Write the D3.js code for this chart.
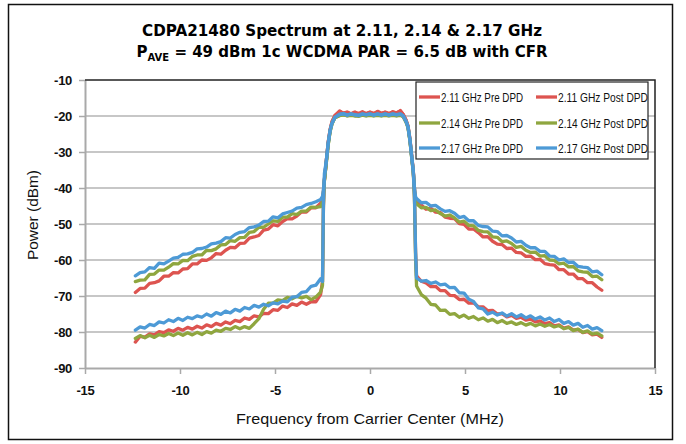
<!DOCTYPE html>
<html><head><meta charset="utf-8">
<script src="https://cdn.jsdelivr.net/npm/d3@7/dist/d3.min.js"></script>
<style>body{margin:0;background:#fff}</style>
</head><body><svg id="c" width="686" height="444"></svg>
<script>
// ---- DATA ----
const freq = [
 -12.35,-12.1,-11.85,-11.6,-11.35,-11.1,-10.85,-10.6,-10.35,-10.1,-9.85,-9.6,-9.35,-9.1,-8.85,-8.6,-8.35,-8.1,-7.85,-7.6,
 -7.35,-7.1,-6.85,-6.6,-6.35,-6.1,-5.85,-5.6,-5.35,-5.1,-4.85,-4.6,-4.35,-4.1,-3.85,-3.6,-3.35,-3.1,-2.85,-2.6,
 -2.5,-2.45,-2.4,-2.3,-2.2,-2.1,-2.0,-1.85,
 -1.6,-1.4,-1.2,-1.0,-0.8,-0.6,-0.4,-0.2,0,0.2,0.4,0.6,0.8,1.0,1.2,1.4,1.6,
 1.75,1.9,2.0,2.1,2.2,2.28,2.34,2.4,
 2.45,2.7,2.95,3.2,3.45,3.7,3.95,4.2,4.45,4.7,4.95,5.2,5.45,5.7,5.95,6.2,6.45,6.7,6.95,7.2,
 7.45,7.7,7.95,8.2,8.45,8.7,8.95,9.2,9.45,9.7,9.95,10.2,10.45,10.7,10.95,11.2,11.45,11.7,11.95,12.2
];
const redPre = [
 -69.0,-67.9,-67.8,-66.5,-66.3,-65.8,-64.5,-64.5,-63.5,-63.6,-62.5,-62.4,-61.1,-61.1,-60.0,-60.1,-59.4,-58.2,-58.4,-57.3,
 -56.5,-56.6,-55.4,-55.3,-53.9,-53.6,-53.2,-51.7,-51.4,-50.2,-50.5,-49.3,-48.5,-48.6,-47.8,-46.6,-46.7,-45.5,-45.5,-44.2,
 -43.0,-40.8,-37.8,-32.5,-27.3,-23.8,-21.6,-19.9,
 -18.6,-19.3,-19.0,-19.4,-18.9,-19.5,-19.1,-19.3,-18.9,-19.4,-18.7,-19.2,-19.0,-19.4,-18.8,-19.2,-18.5,
 -19.6,-21.2,-22.8,-26.3,-31.3,-35.3,-40.0,-43.0,
 -43.9,-44.7,-45.9,-45.6,-46.7,-46.8,-48.1,-48.4,-48.5,-49.9,-50.1,-51.4,-51.4,-52.4,-53.6,-53.5,-54.8,-55.6,-55.7,-56.8,
 -56.7,-57.9,-58.0,-59.0,-58.9,-59.9,-59.8,-61.0,-61.3,-61.4,-62.7,-62.7,-63.9,-63.9,-65.2,-65.2,-66.3,-66.3,-67.5,-68.4
];
const redPost = [
 -82.8,-81.2,-81.4,-80.5,-80.8,-79.9,-80.2,-79.4,-79.8,-79.0,-79.5,-78.7,-79.2,-78.4,-78.9,-78.0,-78.5,-77.6,-78.1,-77.2,
 -77.7,-76.8,-77.1,-76.1,-76.5,-75.5,-75.8,-74.8,-74.9,-73.8,-74.0,-72.8,-73.2,-72.2,-72.6,-71.7,-72.3,-71.6,-71.6,-69.6,
 -66.0,-45.0,-37.8,-32.5,-27.3,-23.8,-21.6,-19.9,
 -18.8,-19.2,-18.9,-19.5,-19.0,-19.3,-18.8,-19.4,-19.0,-19.3,-18.8,-19.4,-18.9,-19.3,-18.9,-19.1,-18.6,
 -19.6,-21.2,-22.8,-26.3,-31.3,-35.3,-42.0,-58.0,
 -64.4,-65.9,-66.4,-67.4,-67.3,-68.5,-68.5,-69.8,-69.9,-71.0,-70.9,-72.0,-71.9,-73.0,-73.0,-74.1,-74.0,-75.0,-74.9,-75.8,
 -75.4,-76.2,-75.9,-76.7,-76.4,-77.2,-76.9,-77.7,-77.4,-78.3,-78.0,-78.9,-78.6,-79.5,-79.3,-80.2,-79.9,-80.8,-80.6,-81.5
];
const greenPre = [
 -66.0,-65.6,-65.5,-64.0,-63.9,-62.8,-62.8,-62.0,-61.0,-61.1,-60.1,-60.2,-59.0,-58.6,-58.6,-57.3,-57.4,-56.9,-55.8,-55.7,
 -54.6,-54.8,-53.8,-53.7,-52.3,-52.1,-50.9,-50.9,-50.0,-49.1,-49.3,-48.1,-48.1,-47.1,-47.4,-46.4,-46.4,-45.3,-45.4,-45.2,
 -43.8,-41.0,-38.0,-33.0,-28.0,-24.3,-22.2,-20.5,
 -19.8,-19.6,-20.0,-19.7,-19.9,-20.1,-19.8,-19.9,-19.7,-20.0,-19.8,-19.9,-19.7,-20.0,-19.8,-19.9,-19.7,
 -20.2,-21.7,-23.2,-26.8,-31.8,-35.8,-40.5,-43.5,
 -44.4,-45.5,-45.4,-46.3,-46.1,-47.1,-47.8,-47.5,-48.3,-49.5,-49.2,-50.4,-50.5,-51.8,-52.1,-52.2,-53.6,-53.7,-54.9,-54.7,
 -55.4,-56.5,-56.2,-57.3,-57.9,-57.8,-58.9,-58.8,-60.0,-60.1,-61.1,-60.9,-61.9,-61.8,-63.0,-63.3,-63.4,-64.6,-64.5,-65.5
];
const greenPost = [
 -81.8,-81.0,-81.6,-80.9,-81.5,-80.7,-81.1,-80.4,-81.0,-80.3,-80.9,-80.2,-80.8,-80.1,-80.7,-79.9,-80.3,-79.5,-79.8,-79.0,
 -79.3,-78.5,-79.1,-78.5,-79.0,-77.7,-76.3,-73.7,-72.0,-72.0,-71.1,-71.3,-70.4,-70.8,-70.1,-70.5,-70.1,-71.0,-70.3,-68.9,
 -67.0,-45.0,-38.0,-33.0,-28.0,-24.3,-22.2,-20.5,
 -19.9,-19.7,-19.9,-19.8,-20.0,-19.9,-19.7,-20.0,-19.8,-19.9,-19.7,-20.0,-19.8,-19.9,-19.7,-20.0,-19.8,
 -20.2,-21.7,-23.2,-26.8,-31.8,-35.8,-43.0,-60.0,
 -67.2,-69.6,-70.6,-72.3,-72.5,-74.0,-73.9,-75.1,-74.9,-75.9,-75.3,-76.2,-75.7,-76.6,-76.1,-77.0,-76.5,-77.4,-76.8,-77.6,
 -77.2,-77.9,-77.4,-78.1,-77.6,-78.3,-77.8,-78.4,-77.9,-78.6,-78.2,-79.1,-78.7,-79.6,-79.2,-80.1,-79.7,-80.6,-80.3,-81.1
];
const bluePre = [
 -64.4,-63.5,-63.3,-62.1,-62.3,-60.9,-61.1,-60.3,-59.5,-59.3,-58.4,-58.3,-57.9,-56.9,-56.8,-56.4,-55.5,-55.3,-54.9,-53.8,
 -53.9,-52.9,-52.3,-52.1,-51.0,-50.8,-50.3,-49.3,-49.2,-48.0,-48.3,-47.2,-46.8,-46.4,-45.6,-45.4,-44.6,-44.3,-43.8,-43.2,
 -42.3,-40.5,-37.5,-32.5,-27.5,-24.0,-22.0,-20.4,
 -19.6,-19.3,-19.8,-19.4,-19.6,-19.9,-19.5,-19.7,-19.4,-19.8,-19.5,-19.7,-19.4,-19.8,-19.5,-19.6,-19.4,
 -20.0,-21.5,-23.0,-26.5,-31.5,-35.5,-40.0,-42.5,
 -42.9,-44.1,-44.0,-45.0,-44.8,-45.8,-46.5,-46.3,-47.0,-48.2,-47.9,-49.1,-49.1,-50.4,-50.7,-50.8,-52.0,-52.1,-53.3,-53.2,
 -53.9,-55.0,-54.8,-55.9,-56.6,-56.6,-57.6,-57.6,-58.9,-59.0,-60.0,-59.7,-60.7,-60.6,-61.8,-62.0,-62.1,-63.3,-63.1,-64.1
];
const bluePost = [
 -79.5,-78.6,-78.9,-77.9,-78.2,-77.2,-77.5,-76.6,-77.1,-76.2,-76.8,-75.9,-76.3,-75.5,-75.9,-75.0,-75.6,-74.6,-75.1,-74.2,
 -74.7,-73.7,-74.2,-73.2,-73.6,-72.6,-73.1,-72.3,-72.7,-71.9,-72.2,-71.4,-71.6,-70.3,-70.2,-69.0,-68.8,-67.3,-67.0,-65.2,
 -66.0,-44.0,-36.0,-32.5,-27.5,-24.0,-22.0,-20.4,
 -19.5,-19.4,-19.7,-19.5,-19.7,-19.8,-19.4,-19.6,-19.5,-19.7,-19.4,-19.8,-19.5,-19.7,-19.4,-19.7,-19.5,
 -20.0,-21.5,-23.0,-26.5,-31.5,-35.5,-42.0,-58.0,
 -65.0,-65.9,-65.7,-66.5,-66.1,-66.9,-66.7,-67.7,-67.6,-69.1,-69.2,-70.9,-71.5,-73.3,-73.6,-75.0,-74.5,-75.3,-74.7,-75.6,
 -74.9,-75.8,-75.2,-76.1,-75.5,-76.4,-75.8,-76.7,-76.1,-77.1,-76.5,-77.6,-77.1,-78.1,-77.6,-78.7,-78.2,-79.2,-78.8,-79.6
];
const seriesNames = ["2.11 GHz Pre DPD","2.11 GHz Post DPD","2.14 GHz Pre DPD","2.14 GHz Post DPD","2.17 GHz Pre DPD","2.17 GHz Post DPD"];
const seriesValues = [redPre, redPost, greenPre, greenPost, bluePre, bluePost];
const seriesColors = ["#dd5450","#dd5450","#8fa63f","#8fa63f","#4d9ad6","#4d9ad6"];
const yTicks = [-90,-80,-70,-60,-50,-40,-30,-20,-10];
const xTicks = [-15,-10,-5,0,5,10,15];

// ---- DRAW ----
const svg = d3.select("#c");
svg.append("rect").attr("width",686).attr("height",444).attr("fill","#fff");
svg.append("rect").attr("x",8.5).attr("y",4.5).attr("width",664).attr("height",435)
  .attr("fill","none").attr("stroke","#111").attr("stroke-width",1.5);

const m = {l:85, r:655, t:80, b:368};
const x = d3.scaleLinear().domain([-15,15]).range([m.l,m.r]);
const y = d3.scaleLinear().domain([-90,-10]).range([m.b,m.t]);

// title
const tf = "'DejaVu Sans', Verdana, sans-serif";
svg.append("text").attr("x",342).attr("y",36).attr("text-anchor","middle")
  .attr("font-family",tf).attr("font-weight","bold").attr("font-size",15)
  .attr("textLength",400).attr("lengthAdjust","spacingAndGlyphs")
  .text("CDPA21480 Spectrum at 2.11, 2.14 & 2.17 GHz");
const t2 = svg.append("text").attr("x",342).attr("y",57).attr("text-anchor","middle")
  .attr("font-family",tf).attr("font-weight","bold").attr("font-size",15);
t2.append("tspan").text("P");
t2.append("tspan").attr("dy",4).attr("font-size",10).text("AVE");
t2.append("tspan").attr("dy",-4).text(" = 49 dBm 1c WCDMA PAR = 6.5 dB with CFR");

// grid
svg.append("g").selectAll("line").data(yTicks.filter(d=>d>-90 && d<-10)).join("line")
  .attr("x1",m.l).attr("x2",m.r).attr("y1",d=>y(d)).attr("y2",d=>y(d))
  .attr("stroke","#b4b4b4").attr("stroke-width",1.6);

// axes
const af = "'Liberation Sans', Arial, sans-serif";
const fmt = d => String(d);
const ya = svg.append("g").attr("transform",`translate(${m.l},0)`)
  .call(d3.axisLeft(y).tickValues(yTicks).tickSize(6).tickSizeOuter(0).tickPadding(7).tickFormat(fmt));
const xa = svg.append("g").attr("transform",`translate(0,${m.b})`)
  .call(d3.axisBottom(x).tickValues(xTicks).tickSize(6).tickSizeOuter(0).tickPadding(12).tickFormat(fmt));
[ya,xa].forEach(a=>{
  a.select(".domain").attr("stroke","#a9a9a9").attr("stroke-width",2);
  a.selectAll(".tick line").attr("stroke","#a9a9a9").attr("stroke-width",1.5);
  a.selectAll("text").attr("font-family",af).attr("font-weight","bold").attr("font-size",13)
    .attr("fill","#111").attr("letter-spacing",-0.3);
});
// plot border top/right
svg.append("path").attr("d",`M${m.l},${m.t}H${m.r}V${m.b}`).attr("fill","none")
  .attr("stroke","#222").attr("stroke-width",1.5);

// axis titles
svg.append("text").attr("x",370).attr("y",424).attr("text-anchor","middle")
  .attr("font-family",af).attr("font-size",15).attr("fill","#111")
  .attr("textLength",268).attr("lengthAdjust","spacingAndGlyphs")
  .text("Frequency from Carrier Center (MHz)");
svg.append("text").attr("transform","translate(38,215) rotate(-90)").attr("text-anchor","middle")
  .attr("font-family",af).attr("font-size",15).attr("fill","#111")
  .attr("textLength",90).attr("lengthAdjust","spacingAndGlyphs")
  .text("Power (dBm)");

// series
const line = d3.line().x((d,i)=>x(freq[i])).y(d=>y(d));
svg.append("clipPath").attr("id","pc").append("rect")
  .attr("x",m.l).attr("y",m.t).attr("width",m.r-m.l).attr("height",m.b-m.t);
svg.append("g").attr("clip-path","url(#pc)").selectAll("path").data(seriesValues).join("path")
  .attr("d",d=>line(d)).attr("fill","none")
  .attr("stroke",(d,i)=>seriesColors[i]).attr("stroke-width",3.3)
  .attr("stroke-linejoin","round").attr("stroke-linecap","round");

// legend
const lg = svg.append("g");
lg.append("rect").attr("x",416).attr("y",82).attr("width",232).attr("height",77)
  .attr("fill","#fff").attr("stroke","#222").attr("stroke-width",1.2);
const lx = [419, 536], ly = [97, 123, 148];
seriesNames.forEach((n,i)=>{
  const c = i%2, r = Math.floor(i/2);
  lg.append("line").attr("x1",lx[c]).attr("x2",lx[c]+21).attr("y1",ly[r]).attr("y2",ly[r])
    .attr("stroke",seriesColors[i]).attr("stroke-width",3.3);
  lg.append("text").attr("x",lx[c]+22).attr("y",ly[r]+4.5)
    .attr("font-family",af).attr("font-size",12.5).attr("fill","#111")
    .attr("textLength", c===0?82:90).attr("lengthAdjust","spacingAndGlyphs")
    .text(n);
});
</script></body></html>
